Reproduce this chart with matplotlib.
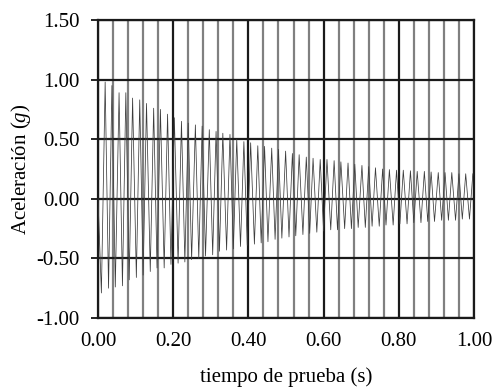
import matplotlib
matplotlib.use("Agg")
import matplotlib.pyplot as plt
import numpy as np
from matplotlib.ticker import MultipleLocator

plt.rcParams['font.family'] = ['Liberation Serif', 'DejaVu Serif']
plt.rcParams['mathtext.fontset'] = 'custom'
plt.rcParams['mathtext.rm'] = 'Liberation Serif'
plt.rcParams['mathtext.it'] = 'Liberation Serif:italic'

# peaks of the damped response (time s, acceleration g)
t_peak = [0.019, 0.037, 0.056, 0.074, 0.092, 0.111, 0.129, 0.148, 0.166, 0.185,
          0.203, 0.222, 0.240, 0.259, 0.277, 0.296, 0.314, 0.332, 0.351, 0.369,
          0.388, 0.406, 0.425, 0.443, 0.462, 0.480, 0.499, 0.517, 0.535, 0.554,
          0.572, 0.591, 0.609, 0.628, 0.646, 0.665, 0.683, 0.702, 0.720, 0.738,
          0.757, 0.775, 0.794, 0.812, 0.831, 0.849, 0.868, 0.886, 0.905, 0.923,
          0.941, 0.960, 0.978, 0.997]
a_peak = [0.98, 0.95, 0.89, 0.89, 0.845, 0.83, 0.80, 0.76, 0.75, 0.71,
          0.68, 0.65, 0.635, 0.62, 0.61, 0.58, 0.565, 0.55, 0.54, 0.50,
          0.48, 0.47, 0.445, 0.44, 0.425, 0.415, 0.40, 0.38, 0.37, 0.35,
          0.34, 0.33, 0.33, 0.32, 0.31, 0.30, 0.29, 0.28, 0.27, 0.26,
          0.25, 0.245, 0.24, 0.24, 0.235, 0.23, 0.23, 0.225, 0.22, 0.22,
          0.22, 0.21, 0.21, 0.21]

# troughs
t_trough = [0.009, 0.028, 0.046, 0.065, 0.083, 0.102, 0.120, 0.139, 0.157, 0.176,
            0.194, 0.213, 0.231, 0.249, 0.268, 0.286, 0.305, 0.323, 0.342, 0.360,
            0.379, 0.397, 0.416, 0.434, 0.452, 0.471, 0.489, 0.508, 0.526, 0.545,
            0.563, 0.582, 0.600, 0.619, 0.637, 0.656, 0.674, 0.692, 0.711, 0.729,
            0.748, 0.766, 0.785, 0.803, 0.822, 0.840, 0.859, 0.877, 0.895, 0.914,
            0.932, 0.951, 0.969, 0.988]
a_trough = [-0.79, -0.75, -0.74, -0.73, -0.68, -0.66, -0.64, -0.61, -0.58, -0.58,
            -0.55, -0.54, -0.53, -0.51, -0.50, -0.48, -0.47, -0.44, -0.43, -0.42,
            -0.40, -0.39, -0.38, -0.37, -0.36, -0.34, -0.33, -0.32, -0.31, -0.30,
            -0.29, -0.28, -0.27, -0.26, -0.26, -0.25, -0.25, -0.24, -0.24, -0.23,
            -0.23, -0.22, -0.22, -0.21, -0.21, -0.20, -0.20, -0.19, -0.19, -0.18,
            -0.18, -0.18, -0.17, -0.17]

t = np.concatenate([[0.0], t_peak, t_trough])
a = np.concatenate([[0.0], a_peak, a_trough])
order = np.argsort(t)
t, a = t[order], a[order]

fig = plt.figure(figsize=(4.96, 3.87), dpi=100)
ax = fig.add_axes([0.1976, 0.1783, 0.7580, 0.7700])

ax.plot(t, a, color='#3c3c3c', lw=0.55, zorder=3)

ax.set_xlim(0, 1)
ax.set_ylim(-1, 1.5)
ax.xaxis.set_major_locator(MultipleLocator(0.2))
ax.xaxis.set_minor_locator(MultipleLocator(0.04))
ax.yaxis.set_major_locator(MultipleLocator(0.5))
ax.xaxis.set_major_formatter(lambda v, p: f"{v:.2f}")
ax.yaxis.set_major_formatter(lambda v, p: f"{v:.2f}")

ax.grid(which='minor', axis='x', color='#808080', lw=1.6, zorder=1)
ax.grid(which='major', axis='x', color='#1a1a1a', lw=1.6, zorder=2)
ax.grid(which='major', axis='y', color='#1a1a1a', lw=1.6, zorder=2)
ax.set_axisbelow(True)

for s in ax.spines.values():
    s.set_linewidth(1.6)
    s.set_color('#1a1a1a')

ax.tick_params(axis='y', which='major', direction='out', length=5, width=1.2,
               labelsize=15, pad=8)
ax.tick_params(axis='x', which='both', direction='in', length=0, labelsize=15, pad=10)

ax.set_xlabel('tiempo de prueba (s)', fontsize=15)
ax.set_ylabel('Aceleración ($\\mathit{g}$)', fontsize=15)
ax.xaxis.set_label_coords(0.5, -0.165)
ax.yaxis.set_label_coords(-0.173, 0.5)

fig.savefig('out.png', dpi=100)
